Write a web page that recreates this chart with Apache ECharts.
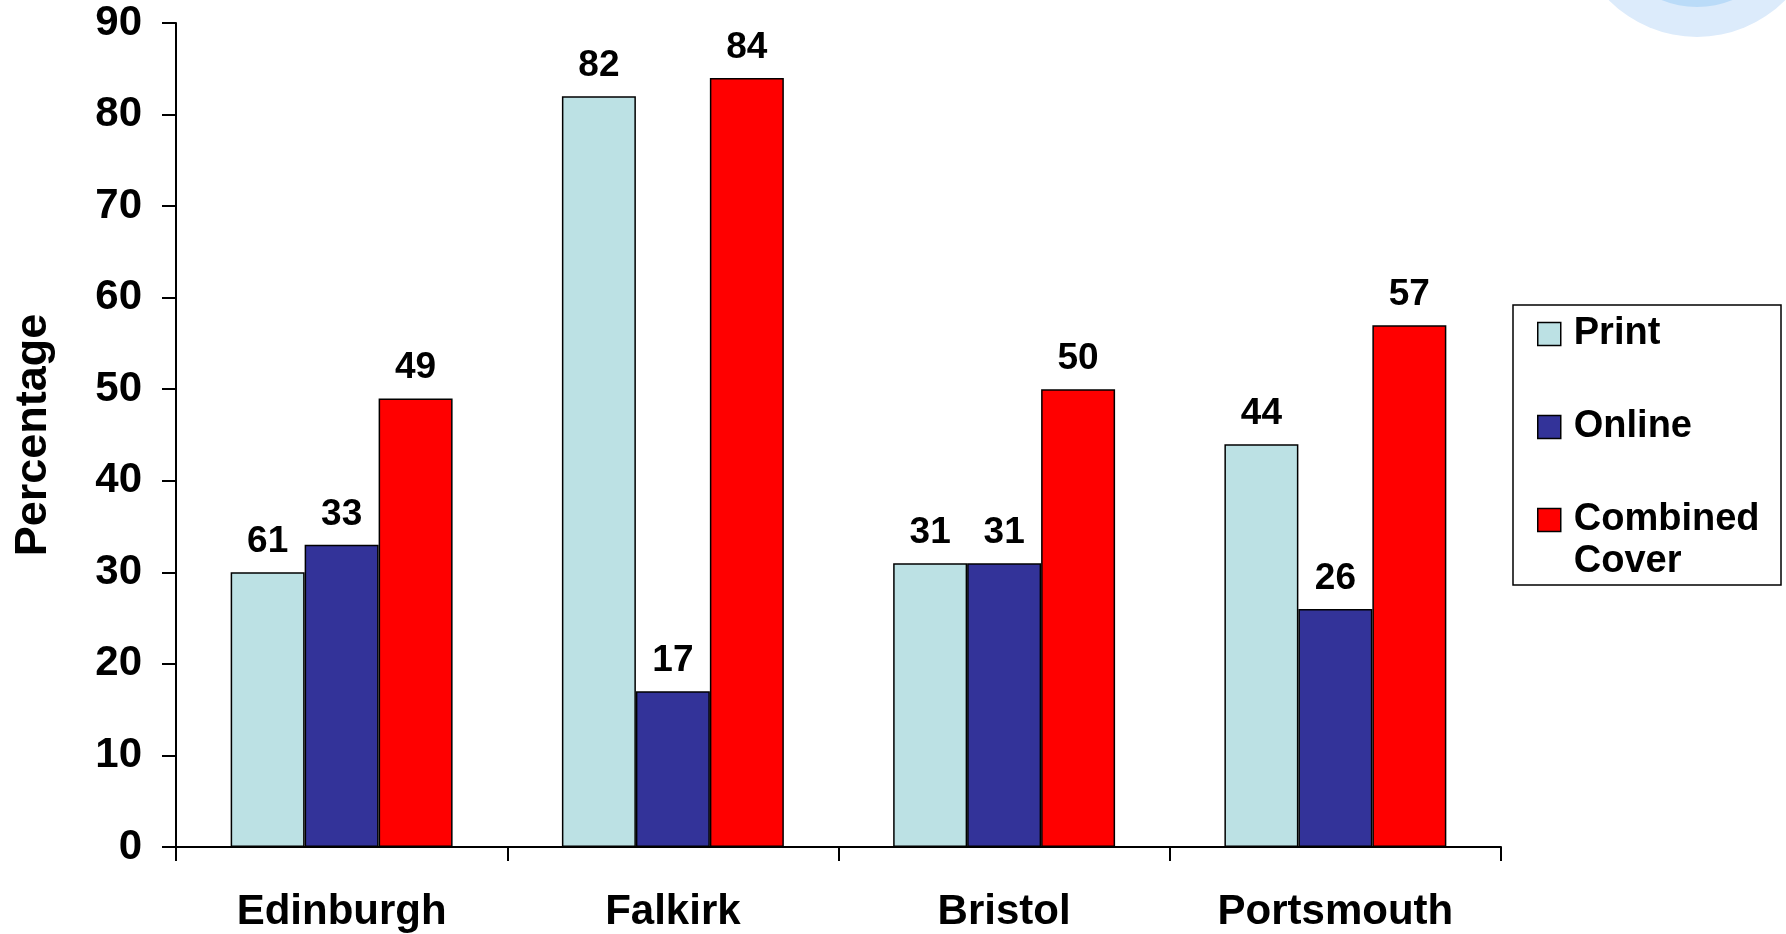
<!DOCTYPE html>
<html>
<head>
<meta charset="utf-8">
<script src="https://cdn.jsdelivr.net/npm/echarts@6/dist/echarts.min.js"></script>
<style>
  html, body { margin: 0; padding: 0; background: #fff; }
  #chart { width: 1786px; height: 934px; }
</style>
</head>
<body>
<div id="chart"></div>
<script>
  // data
  const categories = ['Edinburgh', 'Falkirk', 'Bristol', 'Portsmouth'];
  const printValues = [30, 82, 31, 44];
  const printLabels = [61, 82, 31, 44]; // the Edinburgh bar is drawn at 30 but labelled 61
  const onlineValues = [33, 17, 31, 26];
  const combinedValues = [49, 84, 50, 57];
  const yTicks = { min: 0, max: 90, interval: 10 };

  const font = '"Liberation Sans", Arial, sans-serif';
  const chart = echarts.init(document.getElementById('chart'));

  const barLabel = {
    show: true,
    position: 'top',
    distance: 12,
    color: '#000',
    fontFamily: font,
    fontWeight: 'bold',
    fontSize: 37
  };
  const barBorder = { borderColor: '#000', borderWidth: 1.5 };
  const legendText = { color: '#000', fontFamily: font, fontWeight: 'bold', fontSize: 38, lineHeight: 42, padding: [0, 0, 0, 8] };

  chart.setOption({
    backgroundColor: '#fff',
    animation: false,
    graphic: [
      // faint blue decoration in the top right corner
      { type: 'circle', shape: { cx: 1697, cy: -87, r: 124 }, style: { fill: '#dcebfb' }, z: -1 },
      { type: 'circle', shape: { cx: 1697, cy: -87, r: 94 }, style: { fill: '#badbf8' }, z: -1 },
      // legend box
      { type: 'rect', shape: { x: 1513, y: 305, width: 268, height: 280 },
        style: { fill: '#fff', stroke: '#000', lineWidth: 1.5 }, z: 0 }
    ],
    grid: { left: 176, right: 285, top: 23, bottom: 87, outerBoundsMode: 'none' },
    legend: [{
      data: ['Print', 'Online'],
      orient: 'vertical',
      left: 1537,
      top: 313,
      padding: 0,
      itemGap: 51,
      itemWidth: 23,
      itemHeight: 23,
      icon: 'rect',
      itemStyle: barBorder,
      textStyle: legendText
    }, {
      data: ['Combined Cover'],
      // blank first line keeps the swatch level with "Combined"
      formatter: '\u00a0\nCombined\nCover',
      orient: 'vertical',
      left: 1537,
      top: 457,
      padding: 0,
      itemWidth: 23,
      itemHeight: 23,
      icon: 'rect',
      itemStyle: barBorder,
      textStyle: legendText
    }],
    xAxis: {
      type: 'category',
      data: categories,
      axisLine: { lineStyle: { color: '#000', width: 2 } },
      axisTick: { show: true, length: 14, lineStyle: { color: '#000', width: 2 } },
      axisLabel: { color: '#000', fontFamily: font, fontWeight: 'bold', fontSize: 42, margin: 44 },
      splitLine: { show: false }
    },
    yAxis: {
      type: 'value',
      min: yTicks.min,
      max: yTicks.max,
      interval: yTicks.interval,
      name: 'Percentage',
      nameLocation: 'middle',
      nameGap: 120,
      nameTextStyle: { color: '#000', fontFamily: font, fontWeight: 'bold', fontSize: 45 },
      axisLine: { show: true, lineStyle: { color: '#000', width: 2 } },
      axisTick: { show: true, length: 14, lineStyle: { color: '#000', width: 2 } },
      axisLabel: { color: '#000', fontFamily: font, fontWeight: 'bold', fontSize: 42, margin: 34 },
      splitLine: { show: false }
    },
    series: [{
      name: 'Print',
      type: 'bar',
      data: printValues,
      barGap: '0%',
      barCategoryGap: '33%',
      itemStyle: Object.assign({ color: '#bce1e4' }, barBorder),
      label: Object.assign({}, barLabel, { formatter: (p) => printLabels[p.dataIndex] })
    }, {
      name: 'Online',
      type: 'bar',
      data: onlineValues,
      itemStyle: Object.assign({ color: '#333399' }, barBorder),
      label: barLabel
    }, {
      name: 'Combined Cover',
      type: 'bar',
      data: combinedValues,
      itemStyle: Object.assign({ color: '#ff0000' }, barBorder),
      label: barLabel
    }]
  });
</script>
</body>
</html>
